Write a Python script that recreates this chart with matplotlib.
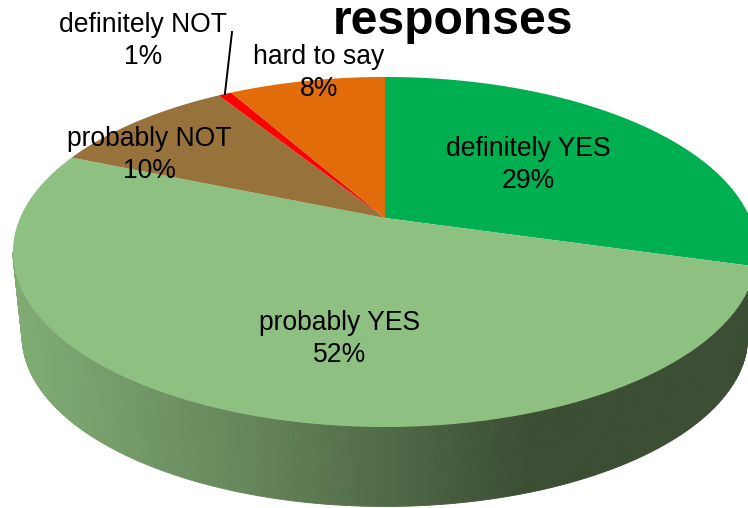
import numpy as np
import matplotlib
matplotlib.use('Agg')
import matplotlib.pyplot as plt

plt.rcParams['font.family'] = ['Liberation Sans', 'DejaVu Sans']

categories = ['definitely YES', 'probably YES', 'probably NOT', 'definitely NOT', 'hard to say']
shares = [29.4, 51.9, 9.8, 0.7, 8.2]

colors = ['#00B050', '#8EC082', '#97723B', '#FF0000', '#E36C0A']

# label centres in pixels, same order as categories
label_pos = [(528, 164.5), (340, 339.5), (149, 155.5), (143.5, 41.5), (319, 72.5)]

# perspective of the pie disc
cx = 385
k = 0.194


def top_face(theta):
    u, v = np.sin(theta), np.cos(theta)
    w = 1 + k * v
    return cx + 365 * u / w, 218 - 168.4 * v / w


def bottom_face(theta):
    u, v = np.sin(theta), np.cos(theta)
    w = 1 + k * v
    return cx + 356 * u / w, 303 - 164 * v / w


def wall_color(x):
    stops = [20, 250, 530]
    r = np.interp(x, stops, [128, 101, 59])
    g = np.interp(x, stops, [172, 133, 77])
    b = np.interp(x, stops, [116, 90, 51])
    return (r / 255, g / 255, b / 255)


fig = plt.figure(figsize=(7.48, 5.08), dpi=100)
ax = fig.add_axes([0, 0, 1, 1])
ax.set_xlim(0, 748)
ax.set_ylim(508, 0)
ax.axis('off')

edges = np.cumsum([0] + shares) / sum(shares) * 2 * np.pi

# side wall, only the front of the big slice can be seen
left_tangent = 2 * np.pi - np.arccos(-k)
wall = np.linspace(edges[1], left_tangent, 260)
for t0, t1 in zip(wall[:-1], wall[1:]):
    ts = np.array([t0, t1])
    x0, y0 = top_face(ts)
    x1, y1 = bottom_face(ts[::-1])
    xs = np.r_[x0, x1]
    ys = np.r_[y0, y1]
    c = wall_color(xs.mean())
    ax.fill(xs, ys, color=c, lw=0.6)

# top face
for i, c in enumerate(colors):
    t = np.linspace(edges[i], edges[i + 1], 120)
    x, y = top_face(t)
    ax.fill(np.r_[cx, x], np.r_[218, y], color=c, lw=0)

for name, share, pos in zip(categories, shares, label_pos):
    ax.text(pos[0], pos[1], '%s\n%.0f%%' % (name, share), fontsize=19.1,
            ha='center', va='center', linespacing=1.3, color='black')

# leader for the small slice
mid = (edges[3] + edges[4]) / 2
lx, ly = top_face(mid)
ax.plot([lx, 232], [ly, 32], color='black', lw=1.4)

ax.text(453, 34, 'responses', fontsize=34.6, fontweight='bold',
        ha='center', va='baseline', color='black')

fig.savefig('out.png', dpi=100)
